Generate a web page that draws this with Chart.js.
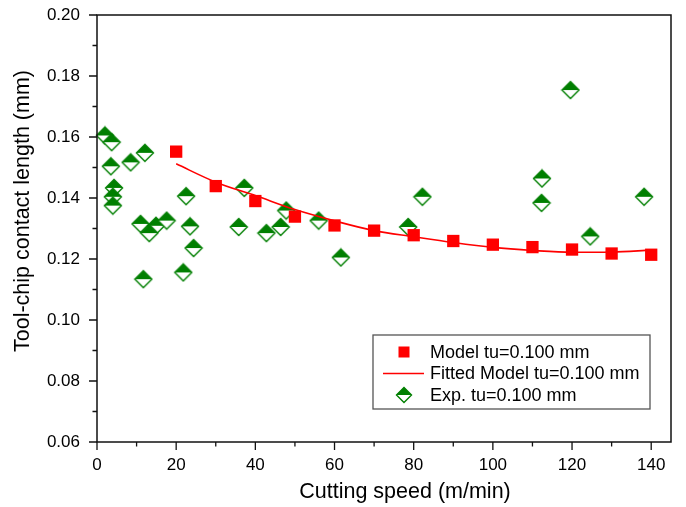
<!DOCTYPE html>
<html>
<head>
<meta charset="utf-8">
<script src="https://cdn.jsdelivr.net/npm/chart.js@4/dist/chart.umd.min.js"></script>
<style>
  html, body { margin: 0; padding: 0; background: #fff; }
  canvas { display: block; }
</style>
</head>
<body>
<canvas id="contactChart" width="686" height="507"></canvas>
<script>
// Model values (tu = 0.100 mm)
const speedModel  = [20, 30, 40, 50, 60, 70, 80, 90, 100, 110, 120, 130, 140];
const lengthModel = [0.1552, 0.1439, 0.1390, 0.1339, 0.1310, 0.1293, 0.1278, 0.1259, 0.1247, 0.1239, 0.1231, 0.1218, 0.1214];

// Fitted model curve
const speedFit  = [20, 30, 40, 50, 60, 70, 80, 90, 100, 110, 120, 130, 140];
const lengthFit = [0.1512, 0.1452, 0.1408, 0.1362, 0.1325, 0.1293, 0.1273, 0.1254, 0.1238, 0.1228, 0.1222, 0.1223, 0.1229];

// Experimental measurements
const speedExp  = [2.0, 3.7, 12.1, 8.5, 3.5, 4.3, 4.0, 4.0, 22.5, 11.0, 14.9, 17.6, 13.2, 23.5, 24.4, 21.8, 11.7,
                   37.2, 35.8, 42.8, 46.4, 47.8, 56.0, 61.6, 78.6, 82.2, 112.4, 112.3, 119.6, 124.6, 138.2];
const lengthExp = [0.1605, 0.1583, 0.1548, 0.1517, 0.1504, 0.1433, 0.1404, 0.1375, 0.1406, 0.1315, 0.1309, 0.1326, 0.1285, 0.1307, 0.1236, 0.1156, 0.1134,
                   0.1433, 0.1305, 0.1285, 0.1305, 0.1359, 0.1326, 0.1205, 0.1305, 0.1404, 0.1464, 0.1384, 0.1754, 0.1274, 0.1404];

// Axis ticks
const xMajorTicks = [0, 20, 40, 60, 80, 100, 120, 140];
const xMinorTicks = [10, 30, 50, 70, 90, 110, 130];
const yMajorTicks = [0.06, 0.08, 0.10, 0.12, 0.14, 0.16, 0.18, 0.20];
const yMinorTicks = [0.07, 0.09, 0.11, 0.13, 0.15, 0.17, 0.19];

const xTitle = 'Cutting speed (m/min)';
const yTitle = 'Tool-chip contact length (mm)';

const RED = '#ff0000';
const GREEN = '#007f00';
const FONT = 'Liberation Sans, Arial, Helvetica, sans-serif';

// half filled diamond used for the experimental points
function makeDiamond(half) {
    const size = half * 2 + 3;
    const c = document.createElement('canvas');
    c.width = size; c.height = size;
    const g = c.getContext('2d');
    const m = size / 2;
    g.fillStyle = '#fff';
    g.beginPath();
    g.moveTo(m - half, m); g.lineTo(m, m + half); g.lineTo(m + half, m); g.closePath();
    g.fill();
    g.fillStyle = GREEN;
    g.beginPath();
    g.moveTo(m - half, m); g.lineTo(m, m - half); g.lineTo(m + half, m); g.closePath();
    g.fill();
    g.strokeStyle = GREEN;
    g.lineWidth = 1.4;
    g.beginPath();
    g.moveTo(m, m - half); g.lineTo(m + half, m); g.lineTo(m, m + half); g.lineTo(m - half, m); g.closePath();
    g.stroke();
    return c;
}
const diamond = makeDiamond(8.5);
const legendDiamond = makeDiamond(7.5);

const toXY = (xs, ys) => xs.map((x, i) => ({ x: x, y: ys[i] }));

// box around the plot, outward tick marks and the axis titles
const frameTicks = {
    id: 'frameTicks',
    afterDraw(chart) {
        const { ctx, chartArea: a, scales: { x, y } } = chart;
        ctx.save();
        ctx.strokeStyle = '#111';
        ctx.lineWidth = 1.5;
        ctx.strokeRect(a.left, a.top, a.right - a.left, a.bottom - a.top);
        ctx.lineWidth = 1.3;
        ctx.beginPath();
        xMajorTicks.forEach(v => { const p = x.getPixelForValue(v); ctx.moveTo(p, a.bottom); ctx.lineTo(p, a.bottom + 8); });
        xMinorTicks.forEach(v => { const p = x.getPixelForValue(v); ctx.moveTo(p, a.bottom); ctx.lineTo(p, a.bottom + 4.5); });
        yMajorTicks.forEach(v => { const p = y.getPixelForValue(v); ctx.moveTo(a.left, p); ctx.lineTo(a.left - 8, p); });
        yMinorTicks.forEach(v => { const p = y.getPixelForValue(v); ctx.moveTo(a.left, p); ctx.lineTo(a.left - 4.5, p); });
        ctx.stroke();

        ctx.fillStyle = '#000';
        ctx.font = '21.5px ' + FONT;
        ctx.textAlign = 'center';
        ctx.textBaseline = 'middle';
        ctx.fillText(xTitle, 405, 492);
        ctx.translate(23, 211);
        ctx.rotate(-Math.PI / 2);
        ctx.fillText(yTitle, 0, 0);
        ctx.restore();
    }
};

// legend box in the lower right of the plot
const boxLegend = {
    id: 'boxLegend',
    afterDraw(chart) {
        const ctx = chart.ctx;
        const ds = chart.data.datasets;
        const left = 373, top = 335, w = 277, h = 74;
        ctx.save();
        ctx.fillStyle = '#fff';
        ctx.fillRect(left, top, w, h);
        ctx.strokeStyle = '#555';
        ctx.lineWidth = 1.3;
        ctx.strokeRect(left, top, w, h);

        const rows = [352, 373.5, 395];
        const symX = 404;
        // Model square
        ctx.fillStyle = RED;
        ctx.fillRect(symX - 5.5, rows[0] - 5.5, 11, 11);
        // Fitted line
        ctx.strokeStyle = RED;
        ctx.lineWidth = 1.5;
        ctx.beginPath();
        ctx.moveTo(383, rows[1]); ctx.lineTo(424, rows[1]);
        ctx.stroke();
        // Exp diamond
        ctx.drawImage(legendDiamond, symX - legendDiamond.width / 2, rows[2] - legendDiamond.height / 2);

        ctx.fillStyle = '#000';
        ctx.font = '18px ' + FONT;
        ctx.textBaseline = 'middle';
        ctx.textAlign = 'left';
        ds.forEach((d, i) => ctx.fillText(d.label, 430, rows[i] + 1));
        ctx.restore();
    }
};

new Chart(document.getElementById('contactChart'), {
    type: 'scatter',
    data: {
        datasets: [
            {
                label: 'Model tu=0.100 mm',
                data: toXY(speedModel, lengthModel),
                pointStyle: 'rect',
                pointRadius: 8.7,
                pointHoverRadius: 8.7,
                backgroundColor: RED,
                borderWidth: 0,
                clip: false
            },
            {
                label: 'Fitted Model tu=0.100 mm',
                data: toXY(speedFit, lengthFit),
                showLine: true,
                borderColor: RED,
                borderWidth: 1.6,
                pointRadius: 0,
                cubicInterpolationMode: 'monotone'
            },
            {
                label: 'Exp. tu=0.100 mm',
                data: toXY(speedExp, lengthExp),
                pointStyle: diamond,
                pointRadius: 8.5,
                clip: false
            }
        ]
    },
    options: {
        responsive: false,
        animation: false,
        layout: { padding: { top: 15, right: 15, left: 0, bottom: 0 } },
        plugins: {
            legend: { display: false },
            tooltip: { enabled: false }
        },
        scales: {
            x: {
                type: 'linear',
                min: 0,
                max: 145,
                afterFit(scale) {
                    scale.height = 65;
                    scale.paddingLeft = 0;
                    scale.paddingRight = 0;
                },
                afterBuildTicks(scale) { scale.ticks = xMajorTicks.map(v => ({ value: v })); },
                grid: { display: false, drawTicks: false },
                border: { display: false },
                ticks: {
                    padding: 13,
                    color: '#000',
                    font: { family: FONT, size: 17 },
                    maxRotation: 0,
                    callback: v => String(v)
                }
            },
            y: {
                type: 'linear',
                min: 0.06,
                max: 0.20,
                afterFit(scale) {
                    scale.width = 97;
                    scale.paddingTop = 0;
                    scale.paddingBottom = 0;
                },
                afterBuildTicks(scale) { scale.ticks = yMajorTicks.map(v => ({ value: v })); },
                grid: { display: false, drawTicks: false },
                border: { display: false },
                ticks: {
                    padding: 17,
                    color: '#000',
                    font: { family: FONT, size: 17 },
                    callback: v => v.toFixed(2)
                }
            }
        }
    },
    plugins: [frameTicks, boxLegend]
});
</script>
</body>
</html>
